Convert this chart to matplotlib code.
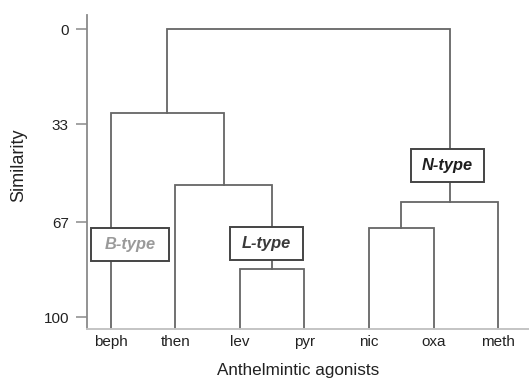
import matplotlib
matplotlib.use("Agg")
import matplotlib.pyplot as plt
from matplotlib.patches import Rectangle

plt.rcParams['font.family'] = ['Liberation Sans', 'DejaVu Sans']

# ---- data ----
labels = ['beph', 'then', 'lev', 'pyr', 'nic', 'oxa', 'meth']
# linkage: (child_a, child_b, similarity); leaves 0..6, new clusters 7..
merge_a = [2, 1, 0, 4, 10, 9]
merge_b = [3, 7, 8, 5, 6, 11]
merge_h = [83, 54, 29, 69, 60, 0]
yticks = [0, 33, 67, 100]
group_names = ['B-type', 'L-type', 'N-type']
group_x = [0.30, 2.41, 5.22]
group_y = [74.6, 74.4, 47.1]
group_colors = ['#9a9a9a', '#3a3a3a', '#1e1e1e']

W, H = 529, 378
fig = plt.figure(figsize=(W / 100, H / 100), dpi=100)
ax = fig.add_axes([87 / W, (H - 329) / H, 1 - 87 / W, (329 - 15) / H])

base = 104.0
ax.set_xlim(-0.37, 6.48)
ax.set_ylim(base, -5)

# positions and heights of nodes
xs = list(range(len(labels)))
hs = [base] * len(labels)
line_col = '#666666'
for a, b, h in zip(merge_a, merge_b, merge_h):
    xa, xb = xs[a], xs[b]
    ha, hb = hs[a], hs[b]
    ax.plot([xa, xa, xb, xb], [ha, h, h, hb], color=line_col, lw=1.3,
            solid_joinstyle='miter', zorder=2, clip_on=False)
    xs.append((xa + xb) / 2)
    hs.append(h)

# group label boxes
bw = [1.21, 1.13, 1.13]
bh = 11.4
for name, gx, gy, c, w in zip(group_names, group_x, group_y, group_colors, bw):
    ax.add_patch(Rectangle((gx - w / 2, gy - bh / 2), w, bh, facecolor='white',
                           edgecolor='#444444', lw=1.4, zorder=3))
    ax.text(gx, gy, name, ha='center', va='center', fontsize=11.8,
            fontweight='bold', fontstyle='italic', color=c, zorder=4)

ax.set_yticks(yticks)
ax.set_yticklabels([str(t) for t in yticks], fontsize=11, color='#222222')
ax.set_xticks(range(len(labels)))
ax.set_xticklabels(labels, fontsize=11, color='#222222')
ax.tick_params(axis='y', length=8, width=1.1, color='#8a8a8a', pad=5)
ax.tick_params(axis='x', length=0, pad=4)

for s in ['top', 'right']:
    ax.spines[s].set_visible(False)
ax.spines['left'].set_color('#8a8a8a')
ax.spines['left'].set_linewidth(1.3)
ax.spines['bottom'].set_color('#c4c4c4')
ax.spines['bottom'].set_linewidth(1.4)

fig.text(19 / W, 1 - 165 / H, 'Similarity', rotation=90, ha='center', va='center',
         fontsize=13, color='#222222')
fig.text(298 / W, 1 - 371 / H, 'Anthelmintic agonists', ha='center', va='center',
         fontsize=12.3, color='#222222')

fig.savefig('out.png', dpi=100)
